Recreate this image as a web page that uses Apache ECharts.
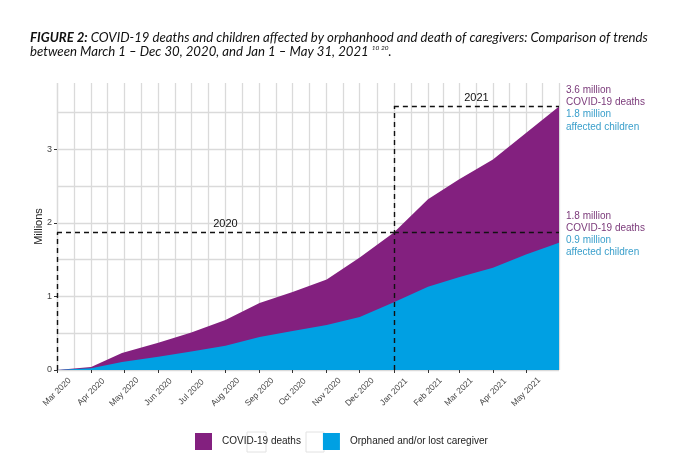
<!DOCTYPE html>
<html>
<head>
<meta charset="UTF-8">
<title>COVID-19 deaths and affected children</title>
<script type="text/javascript" src="https://cdn.jsdelivr.net/npm/echarts@6/dist/echarts.min.js"></script>
<style>
  body{margin:0;background:#fff}
</style>
</head>
<body>
<div id="main" style="width:680px;height:459px"></div>
<script type="text/javascript">
// dates of the readings (year, month 1-12, day)
var dates = [
  [2020,3,1],[2020,4,1],[2020,4,29],[2020,6,1],[2020,7,1],[2020,8,1],[2020,9,1],
  [2020,10,1],[2020,11,1],[2020,12,1],[2021,1,1],[2021,2,1],[2021,3,1],[2021,4,1],
  [2021,5,1],[2021,5,31]
];
// millions
var deaths   = [0, 0.04, 0.23, 0.37, 0.51, 0.68, 0.91, 1.06, 1.23, 1.53, 1.87, 2.32, 2.59, 2.86, 3.22, 3.58];
var children = [0, 0.025, 0.11, 0.18, 0.25, 0.33, 0.45, 0.53, 0.61, 0.72, 0.92, 1.13, 1.26, 1.39, 1.57, 1.73];
var monthNames = ['Jan','Feb','Mar','Apr','May','Jun','Jul','Aug','Sep','Oct','Nov','Dec'];
var yTicks = [0, 1, 2, 3];

var names = ['COVID-19 deaths', 'Orphaned and/or lost caregiver'];
var purple = '#83207f', blue = '#00a0e3';

function toTime(d){ return new Date(d[0], d[1]-1, d[2]).getTime(); }
var times = dates.map(toTime);
var tStart = times[0], tEnd = times[times.length-1];
var tJan = toTime([2021,1,1]);
var iJan = times.indexOf(tJan);
var y2020 = deaths[iJan];
var y2021 = deaths[deaths.length-1];

function pairs(vals){ return times.map(function(t,i){ return [t, vals[i]]; }); }

var myChart = echarts.init(document.getElementById('main'));
var dash = {color:'#111', width:1.4, type:[5,4]};
var grey = {color:'#dadada', width:1.3};

var option = {
  animation: false,
  title: {
    left: 25, top: 26,
    text: '{b|FIGURE 2:} COVID-19 deaths and children affected by orphanhood and death of caregivers: Comparison of trends\nbetween March 1 – Dec 30, 2020, and Jan 1 – May 31, 2021 {s|10 20}.',
    textStyle: {
      fontFamily: 'Lato', fontStyle: 'italic', fontSize: 13.2, fontWeight: 'normal',
      color: '#111', lineHeight: 13.5,
      rich: {
        b: {fontFamily:'Lato', fontStyle:'italic', fontWeight:'bold', fontSize:13.2, color:'#111', lineHeight:13.5},
        s: {fontFamily:'Lato', fontStyle:'italic', fontSize:6.5, color:'#111', verticalAlign:'top', lineHeight:10}
      }
    }
  },
  graphic: [
    {type:'rect', z:1, shape:{x:247, y:432, width:19, height:20}, style:{fill:'#fff', stroke:'#e2e2e2', lineWidth:1}},
    {type:'rect', z:1, shape:{x:306, y:432, width:18, height:20}, style:{fill:'#fff', stroke:'#e2e2e2', lineWidth:1}}
  ],
  legend: {
    top: 428, left: 190,
    itemWidth: 17, itemHeight: 17, itemGap: 22,
    icon: 'rect',
    data: names,
    textStyle: {fontFamily:'Liberation Sans', fontSize: 10, color:'#222', padding:[0,0,0,5]}
  },
  grid: {left: 57, right: 121, top: 83, bottom: 89},
  xAxis: {
    type: 'time', min: tStart, max: tEnd,
    minInterval: 28*86400000, maxInterval: 31*86400000,
    axisLine: {show: false},
    axisTick: {show: true, length: 3, lineStyle:{color:'#333'}},
    axisLabel: {
      rotate: 45, fontSize: 8.5, color: '#444', fontFamily: 'Liberation Sans', margin: 22,
      align: 'center', verticalAlign: 'middle', hideOverlap: false,
      formatter: function(v){ var d = new Date(v); return monthNames[d.getMonth()] + ' ' + d.getFullYear(); }
    },
    splitLine: {show: true, lineStyle: grey},
    minorTick: {show: false, splitNumber: 2},
    minorSplitLine: {show: true, lineStyle: grey}
  },
  yAxis: [{
    type: 'value', min: 0, max: 3.9, interval: 0.5,
    axisLine: {show:false}, axisTick: {show:false}, axisLabel: {show:false},
    splitLine: {show: true, showMaxLine: false, lineStyle: grey}
  }, {
    type: 'value', min: 0, max: 3.9, interval: 1, position: 'left',
    name: 'Millions', nameLocation: 'middle', nameGap: 13, nameRotate: 90, nameMoveOverlap: false,
    nameTextStyle: {fontFamily:'Liberation Sans', fontSize: 11, color:'#222'},
    axisLine: {show:false},
    axisTick: {show:true, length:3, customValues: yTicks, lineStyle:{color:'#333'}},
    axisLabel: {fontSize: 9, color:'#444', fontFamily:'Liberation Sans', margin: 5, customValues: yTicks},
    splitLine: {show:false}
  }],
  series: [{
    name: names[0], type: 'line', yAxisIndex: 0, z: 2,
    data: pairs(deaths), showSymbol: false, symbol: 'none',
    lineStyle: {width: 0}, itemStyle: {color: purple},
    areaStyle: {color: purple, opacity: 1}
  }, {
    name: names[1], type: 'line', yAxisIndex: 0, z: 3,
    data: pairs(children), showSymbol: false, symbol: 'none',
    lineStyle: {width: 0}, itemStyle: {color: blue},
    areaStyle: {color: blue, opacity: 1},
    markLine: {
      silent: true, symbol: ['none','none'], lineStyle: dash,
      label: {show: true, position: 'insideMiddleTop', fontFamily:'Liberation Sans', fontSize: 11, color:'#111', distance: 3},
      data: [
        [{coord:[tStart, 0], label:{show:false}}, {coord:[tStart, y2020]}],
        [{coord:[tStart, y2020], label:{formatter:'2020'}}, {coord:[tJan, y2020]}],
        [{coord:[tJan, y2020], label:{show:false}}, {coord:[tEnd, y2020]}],
        [{coord:[tJan, 0], label:{show:false}}, {coord:[tJan, y2021]}],
        [{coord:[tJan, y2021], label:{formatter:'2021'}}, {coord:[tEnd, y2021]}]
      ]
    },
    markPoint: {
      silent: true, symbol: 'circle', symbolSize: 0,
      label: {
        show: true, position: 'right', distance: 7, offset: [0, 2],
        fontFamily: 'Liberation Sans', fontSize: 10, lineHeight: 12.2,
        rich: {
          p: {color:'#7b3a7a', fontFamily:'Liberation Sans', fontSize:10, lineHeight:12.2},
          c: {color:'#3a9fcb', fontFamily:'Liberation Sans', fontSize:10, lineHeight:12.2}
        }
      },
      data: [
        {coord:[tEnd, y2021], label:{formatter:'{p|3.6 million}\n{p|COVID-19 deaths}\n{c|1.8 million}\n{c|affected children}'}},
        {coord:[tEnd, y2020], label:{formatter:'{p|1.8 million}\n{p|COVID-19 deaths}\n{c|0.9 million}\n{c|affected children}'}}
      ]
    }
  }]
};
myChart.setOption(option);
</script>
</body>
</html>
